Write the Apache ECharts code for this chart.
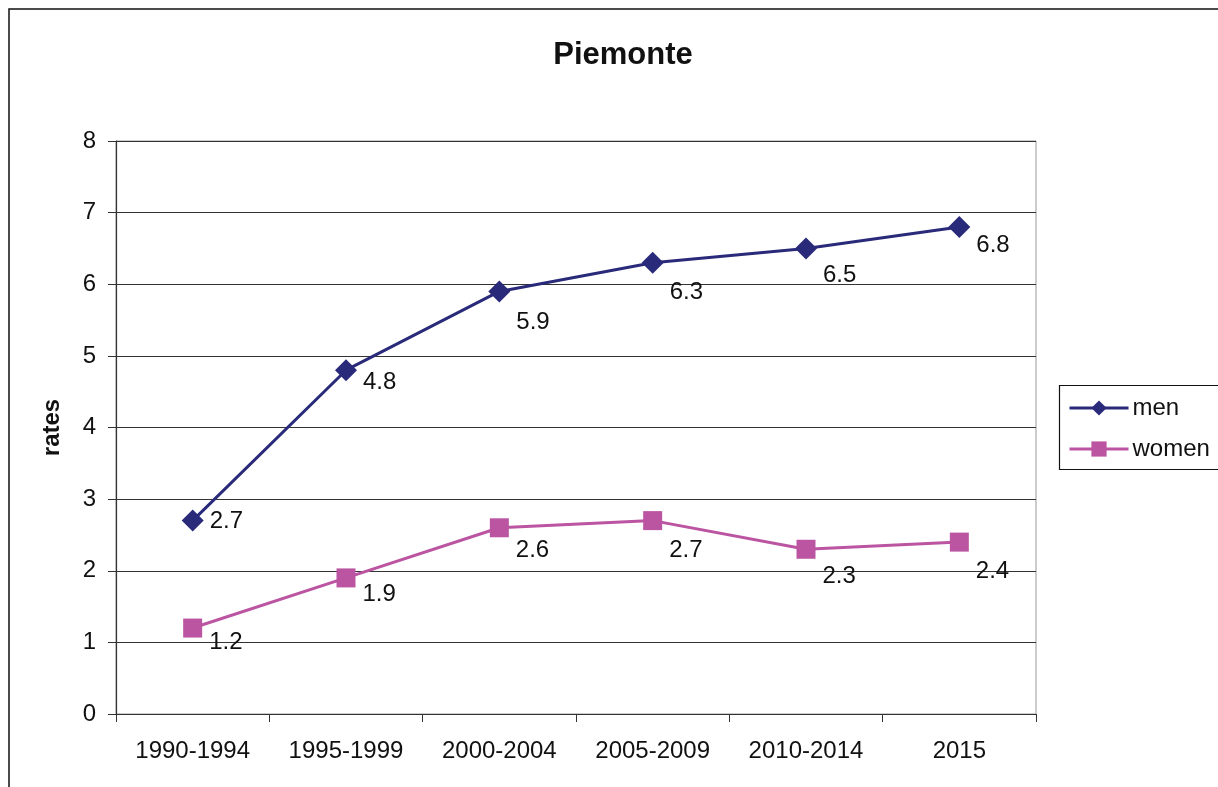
<!DOCTYPE html>
<html><head><meta charset="utf-8">
<script src="https://cdn.jsdelivr.net/npm/echarts@6/dist/echarts.min.js"></script>
<style>html,body{margin:0;padding:0;background:#fff}#c{width:1218px;height:787px}</style>
</head><body><div id="c"></div>
<script>
const categories = ['1990-1994','1995-1999','2000-2004','2005-2009','2010-2014','2015'];
const men = [2.7, 4.8, 5.9, 6.3, 6.5, 6.8];
const women = [1.2, 1.9, 2.6, 2.7, 2.3, 2.4];
const yTicks = [0,1,2,3,4,5,6,7,8];

const menOffsets = [[0,1],[0,12],[0,31],[0,30],[0,27],[0,18]];
const womenOffsets = [[0,14],[0,16],[0,23],[0,30],[0,27],[0,29]];

function withOffsets(vals, offs){
  return vals.map((v,i)=>({value:v,label:{offset:offs[i]}}));
}

const chart = echarts.init(document.getElementById('c'));
const font = 'Liberation Sans, Arial, sans-serif';
const fs = 24;
chart.setOption({
  animation:false,
  textStyle:{fontFamily:font},
  title:{text:'Piemonte',left:623,top:40,padding:0,textAlign:'center',textStyle:{fontFamily:font,fontSize:31,fontWeight:'bold',color:'#111'}},
  graphic:[
    {type:'rect',shape:{x:9,y:9,width:1300,height:900},style:{fill:'none',stroke:'#111',lineWidth:1.5},z:-1},
    {type:'rect',shape:{x:1059.5,y:385.5,width:200,height:84},style:{fill:'#fff',stroke:'#111',lineWidth:1.2},z:0}
  ],
  legend:{
    left:1068,top:396,padding:0,orient:'vertical',itemGap:17,itemWidth:59,itemHeight:19,
    lineStyle:{width:3},
    textStyle:{fontFamily:font,fontSize:24,color:'#111',padding:[0,0,0,-1]},
    data:['men','women'],z:5
  },
  grid:{left:116,right:182,top:141,bottom:73,show:true,borderColor:'#999',borderWidth:1},
  xAxis:{
    type:'category',data:categories,boundaryGap:true,
    axisLine:{lineStyle:{color:'#333',width:1.2}},
    axisTick:{show:true,length:8,lineStyle:{color:'#333'}},
    axisLabel:{fontFamily:font,fontSize:fs,color:'#111',margin:25}
  },
  yAxis:{
    type:'value',min:yTicks[0],max:yTicks[yTicks.length-1],interval:1,
    name:'rates',nameLocation:'middle',nameGap:52,nameRotate:90,
    nameTextStyle:{fontFamily:font,fontSize:24,fontWeight:'bold',color:'#111'},
    axisLine:{show:true,lineStyle:{color:'#333',width:1.2}},
    axisTick:{show:true,length:8,lineStyle:{color:'#333'}},
    axisLabel:{fontFamily:font,fontSize:fs,color:'#111',margin:20},
    splitLine:{lineStyle:{color:'#333',width:1}}
  },
  series:[
    {name:'men',type:'line',data:withOffsets(men,menOffsets),symbol:'diamond',symbolSize:22,
     lineStyle:{color:'#2a2a7a',width:3},itemStyle:{color:'#2a2a7a'},color:'#2a2a7a',
     label:{show:true,position:'right',distance:6,fontFamily:font,fontSize:fs,color:'#111'}},
    {name:'women',type:'line',data:withOffsets(women,womenOffsets),symbol:'rect',symbolSize:19,
     lineStyle:{color:'#bb55a2',width:3},itemStyle:{color:'#bb55a2'},color:'#bb55a2',
     label:{show:true,position:'right',distance:7,fontFamily:font,fontSize:fs,color:'#111'}}
  ]
});
</script></body></html>
